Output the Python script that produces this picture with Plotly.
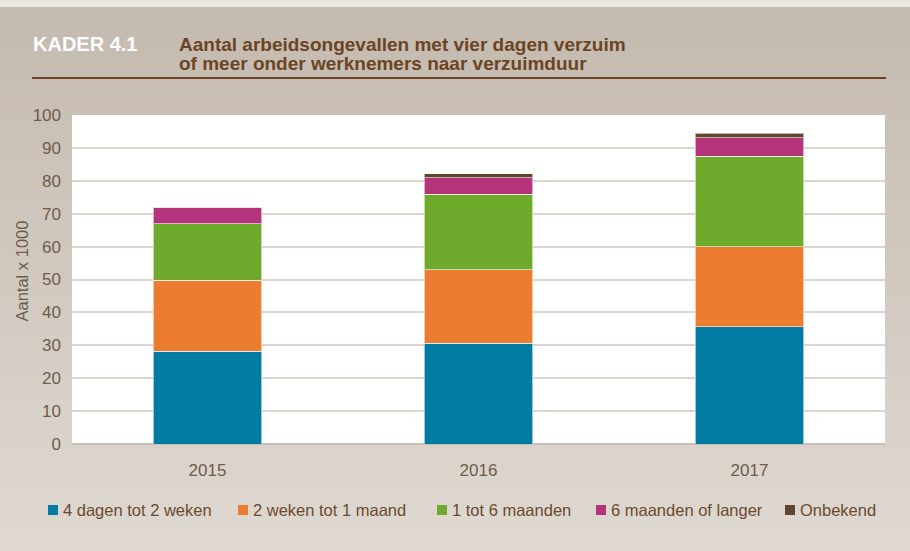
import plotly.graph_objects as go

# Data (x 1000)
years = ["2015", "2016", "2017"]
series_names = ["4 dagen tot 2 weken", "2 weken tot 1 maand", "1 tot 6 maanden",
                "6 maanden of langer", "Onbekend"]
dagen_4_tot_2_weken = [28.2, 30.6, 35.7]
weken_2_tot_1_maand = [21.6, 22.4, 24.3]
maanden_1_tot_6 = [17.2, 22.9, 27.4]
maanden_6_of_langer = [5.0, 5.0, 5.7]
onbekend = [0.0, 1.2, 1.3]
y_ticks = [0, 10, 20, 30, 40, 50, 60, 70, 80, 90, 100]

series_values = [dagen_4_tot_2_weken, weken_2_tot_1_maand, maanden_1_tot_6,
                 maanden_6_of_langer, onbekend]
colors = ["#007ca2", "#ec7c30", "#6eaa2b", "#b5337a", "#5e4630"]

W, H = 910, 551
L, R, T, B = 72, 25, 115, 107
pw, ph = W - L - R, H - T - B

def px_x(x):
    return (x - L) / pw

def px_y(y):
    return (H - B - y) / ph

fig = go.Figure()
for name, vals, col in zip(series_names, series_values, colors):
    fig.add_trace(go.Bar(
        x=years, y=vals, name=name, showlegend=False,
        marker=dict(color=col, line=dict(color="rgba(255,255,255,0.6)", width=1)),
    ))

# Background: light strip on top, then a vertical tan gradient
shapes = []
top_c = (196, 186, 175)
bot_c = (223, 217, 210)
n = 60
for i in range(n):
    y0 = 7 + (H - 7) * i / n
    y1 = 7 + (H - 7) * (i + 1) / n + 0.6
    t = i / (n - 1)
    c = tuple(round(a + (b - a) * t) for a, b in zip(top_c, bot_c))
    shapes.append(dict(type="rect", xref="paper", yref="paper", layer="below",
                       x0=px_x(0), x1=px_x(W), y0=px_y(min(y1, H)), y1=px_y(y0),
                       fillcolor="rgb(%d,%d,%d)" % c, line=dict(width=0)))
shapes.append(dict(type="rect", xref="paper", yref="paper", layer="below",
                   x0=px_x(0), x1=px_x(W), y0=px_y(7), y1=px_y(0),
                   fillcolor="#ebe8e4", line=dict(width=0)))
# White plotting area
shapes.append(dict(type="rect", xref="paper", yref="paper", layer="below",
                   x0=0, x1=1, y0=0, y1=1, fillcolor="white", line=dict(width=0)))
# Brown rule under the heading
shapes.append(dict(type="line", xref="paper", yref="paper",
                   x0=px_x(32), x1=px_x(886), y0=px_y(78), y1=px_y(78),
                   line=dict(color="#6b4523", width=2)))

head_font = "Liberation Sans, Arial, sans-serif"
text_color = "#6e5c4b"
annotations = [
    dict(text="<b>KADER 4.1</b>", xref="paper", yref="paper",
         x=px_x(31), y=px_y(44), xanchor="left", yanchor="middle", showarrow=False,
         font=dict(family=head_font, size=20, color="white")),
    dict(text="<b>Aantal arbeidsongevallen met vier dagen verzuim</b>",
         xref="paper", yref="paper", x=px_x(177), y=px_y(44), xanchor="left", yanchor="middle",
         showarrow=False, font=dict(family=head_font, size=19, color="#6b4523")),
    dict(text="<b>of meer onder werknemers naar verzuimduur</b>",
         xref="paper", yref="paper", x=px_x(177), y=px_y(64), xanchor="left", yanchor="middle",
         showarrow=False, font=dict(family=head_font, size=19, color="#6b4523")),
    # Y-axis title
    dict(text="Aantal x 1000", xref="paper", yref="paper", textangle=-90,
         x=px_x(21.5), y=px_y(271), xanchor="center", yanchor="middle", showarrow=False,
         font=dict(family=head_font, size=16.5, color=text_color)),
]

# Legend row: colour square followed by its label
legend_x = [48, 238, 437, 596, 785]
legend_y = 510
for name, col, lx in zip(series_names, colors, legend_x):
    shapes.append(dict(type="rect", xref="paper", yref="paper",
                       x0=px_x(lx), x1=px_x(lx + 10), y0=px_y(legend_y + 5), y1=px_y(legend_y - 5),
                       fillcolor=col, line=dict(width=0)))
    annotations.append(dict(text=name, xref="paper", yref="paper",
                            x=px_x(lx + 13), y=px_y(legend_y), xanchor="left", yanchor="middle",
                            showarrow=False,
                            font=dict(family=head_font, size=16.5, color="#6b4a2e")))

tick_font = dict(family=head_font, size=17, color=text_color)

fig.update_layout(
    width=W, height=H,
    margin=dict(l=L, r=R, t=T, b=B, pad=0, autoexpand=False),
    barmode="stack", bargap=0.6,
    paper_bgcolor="#ded8d0", plot_bgcolor="rgba(0,0,0,0)",
    shapes=shapes, annotations=annotations,
    showlegend=False,
    xaxis=dict(tickfont=tick_font, showgrid=False, ticks="", showline=False,
               ticklabelstandoff=14, automargin=False),
    yaxis=dict(range=[0, 100], tickvals=y_ticks, tickfont=tick_font,
               gridcolor="#ddd5cc", gridwidth=1.5, zeroline=True, zerolinecolor="#c9bfb4",
               zerolinewidth=1.5, ticks="", ticklen=0, ticklabelstandoff=10, automargin=False),
)

fig.write_html("out.html")
